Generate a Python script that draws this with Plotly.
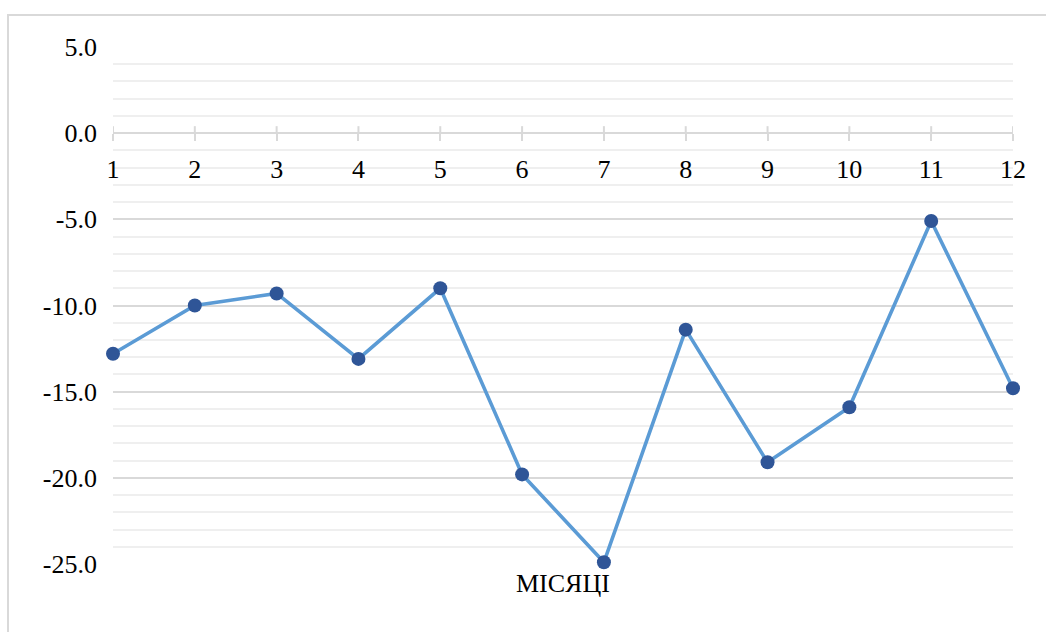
import plotly.graph_objects as go

# Monthly values
months = [1, 2, 3, 4, 5, 6, 7, 8, 9, 10, 11, 12]
values = [-12.8, -10.0, -9.3, -13.1, -9.0, -19.8, -24.9, -11.4, -19.1, -15.9, -5.1, -14.8]

# Y-axis tick values and labels (hyphen minus, one decimal)
y_ticks = [5, 0, -5, -10, -15, -20, -25]
y_tick_labels = ["5.0", "0.0", "-5.0", "-10.0", "-15.0", "-20.0", "-25.0"]

axis_title = "МІСЯЦІ"

Y_MIN, Y_MAX = -25, 5
FONT = "Liberation Serif, DejaVu Serif, serif"
FONT_SIZE = 26
GRID_MAJOR = "#d9d9d9"
GRID_MINOR = "#efefef"

fig = go.Figure()

fig.add_trace(go.Scatter(
    x=months,
    y=values,
    mode="lines+markers",
    line=dict(color="#5b9bd5", width=3.6),
    marker=dict(color="#2f5597", size=14),
    cliponaxis=False,
    showlegend=False,
))

# x axis drawn across the value 0 of the y axis
x_axis_pos = (0 - Y_MIN) / (Y_MAX - Y_MIN)

fig.update_layout(
    width=1046,
    height=632,
    margin=dict(l=113, r=33, t=47, b=68),
    paper_bgcolor="white",
    plot_bgcolor="white",
    font=dict(family=FONT, size=FONT_SIZE, color="#000000"),
    xaxis=dict(
        range=[months[0], months[-1]],
        tickvals=months,
        ticktext=[str(m) for m in months],
        showgrid=False,
        zeroline=False,
        showline=True,
        linecolor=GRID_MAJOR,
        linewidth=2,
        ticks="outside",
        ticklen=7,
        tickwidth=2,
        tickcolor=GRID_MAJOR,
        ticklabelstandoff=6,
        anchor="free",
        position=x_axis_pos,
        tickfont=dict(family=FONT, size=FONT_SIZE, color="#000000"),
    ),
    yaxis=dict(
        range=[Y_MIN, Y_MAX],
        tickvals=y_ticks,
        ticktext=y_tick_labels,
        showgrid=True,
        gridcolor=GRID_MAJOR,
        gridwidth=2,
        zeroline=False,
        showline=False,
        ticks="",
        ticklabelstandoff=15,
        minor=dict(dtick=1, showgrid=True, gridcolor=GRID_MINOR, gridwidth=2),
        tickfont=dict(family=FONT, size=FONT_SIZE, color="#000000"),
    ),
)

# Upward half of the crossing tick marks on the x axis
for m in months:
    fig.add_shape(
        type="line",
        xref="x", yref="y",
        x0=m, x1=m,
        ysizemode="pixel", yanchor=0,
        y0=0, y1=7,
        line=dict(color=GRID_MAJOR, width=2),
        layer="above",
    )

# Axis title under the plot area
fig.add_annotation(
    text=axis_title,
    xref="paper", yref="paper",
    x=0.5, y=0,
    xanchor="center", yanchor="top",
    yshift=-3,
    showarrow=False,
    font=dict(family=FONT, size=FONT_SIZE, color="#000000"),
)

# Chart frame
fig.add_shape(
    type="rect",
    xref="paper", yref="paper",
    x0=(8 - 113) / 900, x1=1.2,
    y0=-0.3, y1=1 + (47 - 15) / 517,
    line=dict(color="#d9d9d9", width=2),
    layer="below",
)

fig.write_html("out.html")
